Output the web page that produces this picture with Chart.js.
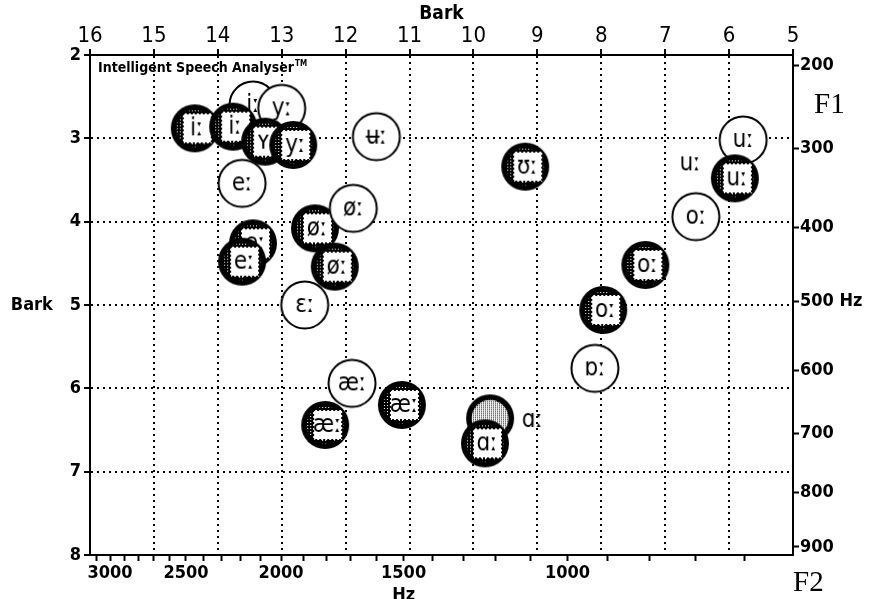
<!DOCTYPE html>
<html>
<head>
<meta charset="utf-8">
<script src="https://cdn.jsdelivr.net/npm/chart.js@4.4.0/dist/chart.umd.min.js"></script>
<style>
  html, body { margin: 0; padding: 0; background: #fff; }
  #wrap { width: 873px; height: 599px; position: relative; }
</style>
</head>
<body>
<div id="wrap"><canvas id="chart" width="873" height="599"></canvas></div>
<script>
// Vowel tokens in drawing order (later tokens are drawn on top)
const vowels = ['iː','yː','iː','iː','ʏː','yː','ʉː','eː','eː','eː','øː','øː','øː','ɛː','æː','æː','æː','','ɑː','ɑː','ʊː','uː','oː','uː','uː','oː','oː','ɒː'];
// open = plain ring, filled = stippled disc with boxed symbol, text = symbol alone
const kinds = ['open','open','filled','filled','filled','filled','open','open','filled','filled','filled','filled','open','open','filled','open','filled','filled','filled','text','filled','open','open','filled','text','filled','filled','open'];
// F2 and F1 in Bark
const f2Bark = [13.45,13.0,14.36,13.76,13.26,12.82,11.52,13.62,13.45,13.62,12.48,12.17,11.88,12.64,12.32,11.9,11.12,9.74,9.82,9.08,9.19,5.78,6.52,5.91,6.61,7.31,7.97,8.10];
const f1Bark = [2.60,2.64,2.88,2.86,3.04,3.08,2.98,3.54,4.26,4.48,4.08,4.54,3.84,5.0,6.44,5.94,6.20,6.36,6.66,6.38,3.34,3.02,3.94,3.48,3.30,4.52,5.06,5.76];

// Axis ticks
const barkF2Ticks = [16,15,14,13,12,11,10,9,8,7,6,5];
const barkF1Ticks = [2,3,4,5,6,7,8];
const f2HzTicks = [3100,3000,2900,2800,2700,2600,2500,2400,2300,2200,2100,2000,1900,1800,1700,1600,1500,1400,1300,1200,1100,1000,900,800,700,600];
const f2HzLabelled = [3000,2500,2000,1500,1000];
const f1HzTicks = [200,300,400,500,600,700,800,900];

// Hz -> Bark conversions used by the two frequency axes
const barkF2 = f => 26.81 * f / (1960 + f) - 0.53;
const barkF1 = f => 7 * Math.asinh(f / 650);

// --- marker images ---
function tile(light) {
  const t = document.createElement('canvas');
  t.width = t.height = light ? 2 : 3;
  const g = t.getContext('2d');
  if (light) {
    g.fillStyle = '#fff'; g.fillRect(0, 0, 2, 2);
    g.fillStyle = '#000'; g.fillRect(0, 0, 1, 1);
  } else {
    g.fillStyle = '#000'; g.fillRect(0, 0, 3, 3);
    g.fillStyle = '#fff'; g.fillRect(1, 1, 1, 1);
  }
  return t;
}
const darkTile = tile(false), lightTile = tile(true);
const symbolFont = '24px "DejaVu Sans Condensed", "DejaVu Sans", sans-serif';

function makeMarker(label, kind) {
  const S = 62, m = S / 2, R = 23.5;
  const c = document.createElement('canvas');
  c.width = c.height = S;
  const g = c.getContext('2d');
  if (kind === 'open') {
    g.beginPath(); g.arc(m, m, R, 0, Math.PI * 2);
    g.fillStyle = '#fff'; g.fill();
    g.lineWidth = 2; g.strokeStyle = '#000'; g.stroke();
  } else if (kind === 'filled') {
    g.beginPath(); g.arc(m, m, R + 0.5, 0, Math.PI * 2);
    g.fillStyle = '#000'; g.fill();
    g.beginPath(); g.arc(m, m, R - 5, 0, Math.PI * 2);
    g.fillStyle = g.createPattern(label ? darkTile : lightTile, 'repeat'); g.fill();
    if (label) {
      const bx = m - 12, by = m - 15, bw = 29, bh = 30;
      g.fillStyle = '#fff'; g.fillRect(bx, by, bw, bh);
      g.setLineDash([2, 2]); g.lineWidth = 2; g.strokeStyle = '#000';
      g.strokeRect(bx, by, bw, bh);
      g.setLineDash([]);
    }
  }
  if (label) {
    g.font = symbolFont;
    g.fillStyle = '#000';
    g.textAlign = 'center';
    g.textBaseline = 'middle';
    g.fillText(label, m + (kind === 'filled' ? 2 : 0), m + 1);
  }
  return c;
}
const markers = vowels.map((v, i) => makeMarker(v, kinds[i]));

// --- text decorations ---
const decor = {
  id: 'decor',
  beforeDraw(chart) {
    const ctx = chart.ctx;
    ctx.save();
    ctx.fillStyle = '#fff';
    ctx.fillRect(0, 0, chart.width, chart.height);
    ctx.restore();
  },
  beforeDatasetsDraw(chart) {
    const {ctx, chartArea: a} = chart;
    ctx.save();
    ctx.fillStyle = '#000';
    ctx.textBaseline = 'alphabetic';
    ctx.font = 'bold 14px "DejaVu Sans Condensed", "DejaVu Sans", sans-serif';
    const t = 'Intelligent Speech Analyser';
    ctx.fillText(t, a.left + 8, a.top + 17);
    const w = ctx.measureText(t).width;
    ctx.font = 'bold 8px "DejaVu Sans Condensed", "DejaVu Sans", sans-serif';
    ctx.fillText('TM', a.left + 9 + w, a.top + 11);
    ctx.font = '29px "Liberation Serif", serif';
    ctx.textAlign = 'left';
    ctx.fillText('F1', a.right + 21, a.top + 58);
    ctx.fillText('F2', a.right + 0, chart.height - 8);
    ctx.restore();
  }
};

const tickFont = {family: '"DejaVu Sans Condensed", "DejaVu Sans", sans-serif', size: 18, weight: 'bold'};
const topFont = {family: '"DejaVu Sans Condensed", "DejaVu Sans", sans-serif', size: 22};
const edge = (v, lo, hi) => (v === lo || v === hi);

new Chart(document.getElementById('chart'), {
  type: 'scatter',
  data: {
    datasets: [{
      data: f2Bark.map((x, i) => ({x, y: f1Bark[i]})),
      pointStyle: ctx => markers[ctx.dataIndex],
      pointRadius: 24,
      xAxisID: 'xBark',
      yAxisID: 'yBark'
    }]
  },
  options: {
    responsive: false,
    animation: false,
    events: [],
    layout: {padding: 0},
    plugins: {legend: {display: false}, tooltip: {enabled: false}},
    scales: {
      xBark: {
        type: 'linear', position: 'top', min: 5, max: 16, reverse: true,
        afterBuildTicks: s => { s.ticks = barkF2Ticks.map(v => ({value: v})); },
        afterFit: s => { s.height = 55; },
        ticks: {font: topFont, color: '#000', padding: 0, maxRotation: 0, autoSkip: false},
        title: {display: true, text: 'Bark', color: '#000', font: {family: '"DejaVu Sans Condensed", "DejaVu Sans", sans-serif', size: 19, weight: 'bold'}, padding: {top: 3, bottom: 0}},
        grid: {
          drawOnChartArea: true, drawTicks: true, tickLength: 6, lineWidth: 2,
          color: c => (c.tick && edge(c.tick.value, 5, 16)) ? 'rgba(0,0,0,0)' : '#000',
          tickColor: '#000', tickWidth: 2
        },
        border: {display: true, color: '#000', width: 2, dash: [2, 4]}
      },
      xHz: {
        type: 'linear', position: 'bottom', min: 5, max: 16, reverse: true,
        afterBuildTicks: s => { s.ticks = f2HzTicks.map(f => ({value: barkF2(f)})); },
        afterFit: s => { s.height = 44; },
        ticks: {
          font: tickFont, color: '#000', padding: 2, maxRotation: 0, autoSkip: false,
          callback: (v, i) => {
            const f = f2HzTicks[i];
            if (!f2HzLabelled.includes(f)) return '';
            return f === 1500 ? ['1500', 'Hz'] : String(f);
          }
        },
        grid: {drawOnChartArea: false, drawTicks: true, tickLength: 6, tickColor: '#000', tickWidth: 2},
        border: {display: true, color: '#000', width: 2}
      },
      yBark: {
        type: 'linear', position: 'left', min: 2, max: 8, reverse: true,
        afterBuildTicks: s => { s.ticks = barkF1Ticks.map(v => ({value: v})); },
        afterFit: s => { s.width = 90; },
        ticks: {
          font: tickFont, color: '#000', padding: 3, autoSkip: false,
          callback: v => v === 5 ? 'Bark   5' : String(v)
        },
        grid: {
          drawOnChartArea: true, drawTicks: true, tickLength: 6, lineWidth: 2,
          color: c => (c.tick && edge(c.tick.value, 2, 8)) ? 'rgba(0,0,0,0)' : '#000',
          tickColor: '#000', tickWidth: 2
        },
        border: {display: true, color: '#000', width: 2, dash: [2, 4]}
      },
      yHz: {
        type: 'linear', position: 'right', min: 2, max: 8, reverse: true,
        afterBuildTicks: s => { s.ticks = f1HzTicks.map(f => ({value: barkF1(f)})); },
        afterFit: s => { s.width = 80; },
        ticks: {
          font: tickFont, color: '#000', padding: 1, autoSkip: false,
          callback: (v, i) => f1HzTicks[i] === 500 ? '500 Hz' : String(f1HzTicks[i])
        },
        grid: {drawOnChartArea: false, drawTicks: true, tickLength: 6, tickColor: '#000', tickWidth: 2},
        border: {display: true, color: '#000', width: 2}
      }
    }
  },
  plugins: [decor]
});
</script>
</body>
</html>
